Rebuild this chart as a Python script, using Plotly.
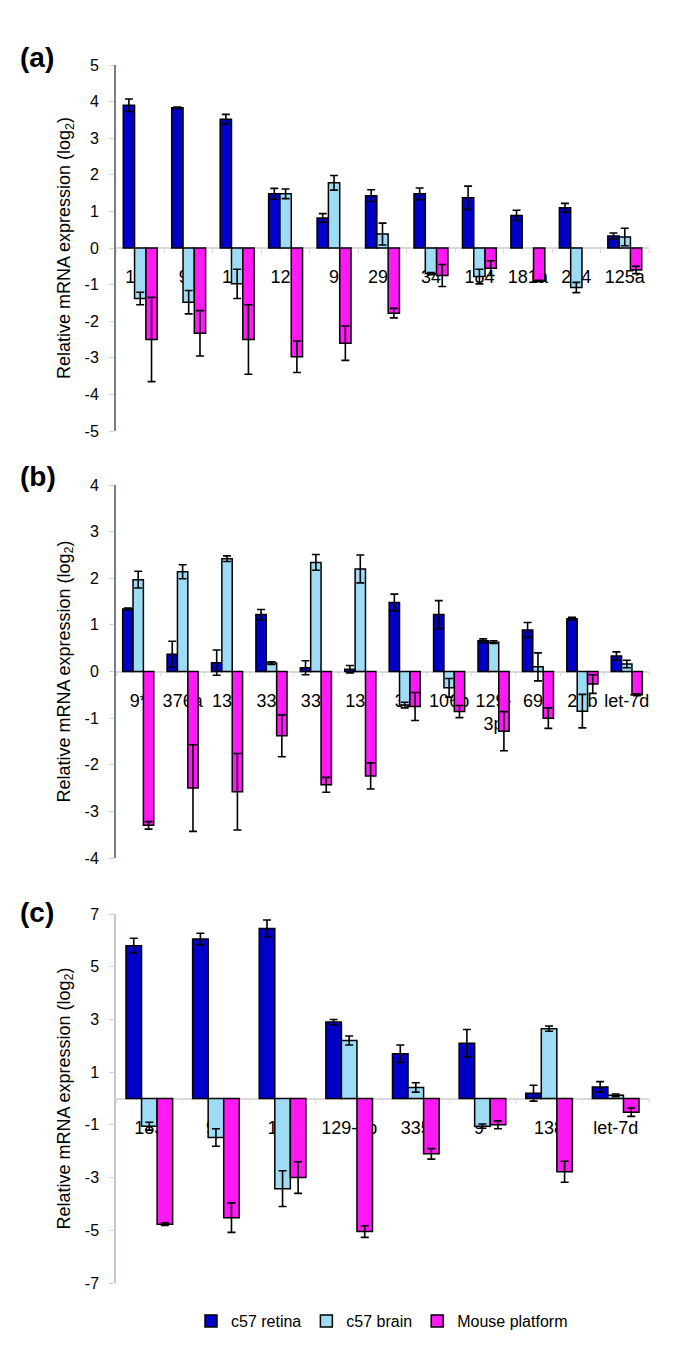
import plotly.graph_objects as go

FONT = "Liberation Sans Narrow, Arial Narrow, Liberation Sans, Arial, sans-serif"

series_names = ["c57 retina", "c57 brain", "Mouse platform"]
series_colors = ["#0000c8", "#9edcf6", "#ff19f5"]

# ---- panel (a)
cats_a = ["183", "96", "182", "124", "9", "29c", "34", "184", "181a", "204", "125a"]
retina_a = [3.90, 3.83, 3.52, 1.48, 0.82, 1.43, 1.48, 1.37, 0.89, 1.10, 0.33]
retina_a_err = [0.17, 0.02, 0.13, 0.15, 0.12, 0.16, 0.16, 0.32, 0.14, 0.12, 0.08]
brain_a = [-1.38, -1.48, -0.98, 1.48, 1.78, 0.38, -0.70, -0.78, None, -1.08, 0.30]
brain_a_err = [0.17, 0.32, 0.40, 0.13, 0.20, 0.30, 0.03, 0.20, 0, 0.14, 0.24]
platform_a = [-2.50, -2.33, -2.50, -2.97, -2.60, -1.78, -0.75, -0.55, -0.90, None, -0.60]
platform_a_err = [1.15, 0.62, 0.95, 0.43, 0.47, 0.13, 0.30, 0.20, 0.02, 0, 0.10]

# ---- panel (b)
cats_b = ["9*", "376a", "138", "335", "338", "136", "31", "106b", "129-<br>3p", "691", "20b", "let-7d"]
retina_b = [1.34, 0.37, 0.19, 1.22, 0.08, 0.05, 1.48, 1.22, 0.66, 0.89, 1.13, 0.33]
retina_b_err = [0.02, 0.28, 0.27, 0.11, 0.15, 0.08, 0.18, 0.30, 0.04, 0.16, 0.03, 0.09]
brain_b = [1.97, 2.14, 2.42, 0.18, 2.34, 2.20, -0.72, -0.35, 0.63, 0.10, -0.85, 0.16]
brain_b_err = [0.18, 0.15, 0.06, 0.03, 0.17, 0.30, 0.06, 0.20, 0.03, 0.30, 0.36, 0.08]
platform_b = [-3.30, -2.50, -2.58, -1.38, -2.43, -2.24, -0.75, -0.86, -1.28, -1.00, -0.27, -0.50]
platform_b_err = [0.08, 0.93, 0.82, 0.45, 0.16, 0.28, 0.30, 0.13, 0.42, 0.22, 0.20, 0.02]

# ---- panel (c)
cats_c = ["183", "96", "184", "129-3p", "335", "9*", "138", "let-7d"]
retina_c = [5.80, 6.05, 6.45, 2.90, 1.70, 2.10, 0.20, 0.44]
retina_c_err = [0.28, 0.22, 0.32, 0.10, 0.33, 0.52, 0.30, 0.20]
brain_c = [-1.05, -1.48, -3.42, 2.20, 0.42, -1.05, 2.65, 0.12]
brain_c_err = [0.15, 0.33, 0.68, 0.17, 0.18, 0.08, 0.10, 0.05]
platform_c = [-4.77, -4.52, -3.00, -5.05, -2.10, -1.00, -2.78, -0.52]
platform_c_err = [0.05, 0.56, 0.60, 0.22, 0.20, 0.15, 0.40, 0.16]

# y tick values per panel
yticks_a = [5, 4, 3, 2, 1, 0, -1, -2, -3, -4, -5]
yticks_b = [4, 3, 2, 1, 0, -1, -2, -3, -4]
yticks_c = [7, 5, 3, 1, -1, -3, -5, -7]

panels = [
    dict(label="(a)", cats=cats_a,
         vals=[retina_a, brain_a, platform_a],
         errs=[retina_a_err, brain_a_err, platform_a_err],
         yrange=[-5, 5], yticks=yticks_a, ytop_px=57, ybot_px=423, label_px=50,
         axcolor="#6f8585", axwidth=2),
    dict(label="(b)", cats=cats_b,
         vals=[retina_b, brain_b, platform_b],
         errs=[retina_b_err, brain_b_err, platform_b_err],
         yrange=[-4, 4], yticks=yticks_b, ytop_px=477, ybot_px=850, label_px=468,
         axcolor="#6f8585", axwidth=2),
    dict(label="(c)", cats=cats_c,
         vals=[retina_c, brain_c, platform_c],
         errs=[retina_c_err, brain_c_err, platform_c_err],
         yrange=[-7, 7], yticks=yticks_c, ytop_px=906, ybot_px=1275, label_px=905,
         axcolor="#c4caca", axwidth=1.5),
]

W, H = 685, 1355
XDOM = [108 / W, 641 / W]

fig = go.Figure()
layout = dict(
    width=W, height=H,
    margin=dict(l=0, r=0, t=0, b=0),
    paper_bgcolor="white", plot_bgcolor="white",
    barmode="group", bargap=0.3, bargroupgap=0,
    font=dict(family=FONT, size=15, color="black"),
    showlegend=True,
    legend=dict(orientation="h", x=374 / W, xanchor="center", y=1 - 1313 / H, yanchor="middle",
                font=dict(size=16, family=FONT), traceorder="normal", itemwidth=30,
                bgcolor="rgba(0,0,0,0)"),
)
annotations = []

for i, p in enumerate(panels):
    n = "" if i == 0 else str(i + 1)
    xa, ya = "x" + n, "y" + n
    d0 = 1 - p["ybot_px"] / H
    d1 = 1 - p["ytop_px"] / H
    ymin, ymax = p["yrange"]
    zero_pos = d0 + (0 - ymin) / (ymax - ymin) * (d1 - d0)
    for s in range(3):
        fig.add_trace(go.Bar(
            x=p["cats"], y=p["vals"][s], name=series_names[s],
            marker=dict(color=series_colors[s], line=dict(color="black", width=1.5)),
            error_y=dict(type="data", array=p["errs"][s], color="black", thickness=1.6, width=4),
            xaxis=xa, yaxis=ya, showlegend=(i == 0), legendgroup=series_names[s],
        ))
    layout["xaxis" + n] = dict(
        domain=XDOM, anchor="free", position=zero_pos, type="category",
        showline=True, linecolor="#d9d9d9", linewidth=1.5,
        ticks="outside", tickson="boundaries", ticklen=4, tickcolor="#d9d9d9",
        ticklabelstandoff=13, tickfont=dict(size=18, family=FONT),
        layer="below traces", showgrid=False, zeroline=False, automargin=False,
        tickangle=0,
    )
    layout["yaxis" + n] = dict(
        domain=[d0, d1], anchor=xa, range=p["yrange"],
        tickmode="array", tickvals=p["yticks"], ticktext=[str(v) for v in p["yticks"]],
        showline=True, linecolor=p["axcolor"], linewidth=p["axwidth"],
        ticks="outside", ticklen=5, tickcolor="#d0d4d4",
        ticklabelstandoff=7, tickfont=dict(size=16, family=FONT),
        showgrid=False, zeroline=False, automargin=False,
    )
    annotations.append(dict(
        text="Relative mRNA expression (log<sub>2</sub>)", textangle=-90,
        xref="paper", yref="paper", x=57 / W, y=(d0 + d1) / 2,
        xanchor="center", yanchor="middle", showarrow=False,
        font=dict(size=18, family=FONT),
    ))
    annotations.append(dict(
        text="<b>" + p["label"] + "</b>", xref="paper", yref="paper",
        x=10 / W, y=1 - p["label_px"] / H, xanchor="left", yanchor="middle",
        showarrow=False, font=dict(size=28, family=FONT),
    ))

layout["annotations"] = annotations
fig.update_layout(**layout)
fig.write_html("out.html")
